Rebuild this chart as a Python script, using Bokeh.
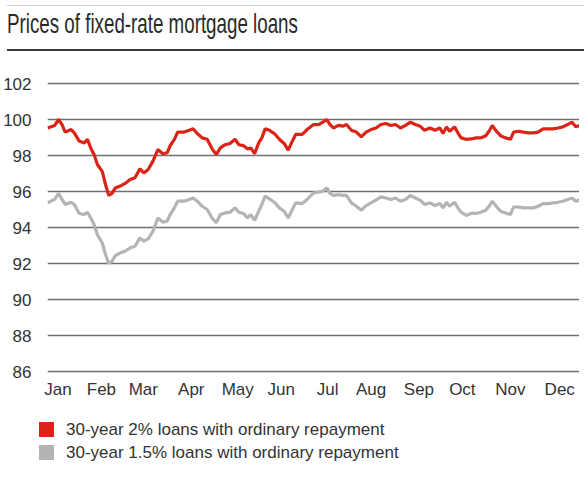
from bokeh.plotting import figure
from bokeh.models import Range1d, FixedTicker, Div
from bokeh.layouts import column
from bokeh.embed import file_html
from bokeh.resources import INLINE

title_text = "Prices of fixed-rate mortgage loans"
months = ["Jan", "Feb", "Mar", "Apr", "May", "Jun", "Jul", "Aug", "Sep", "Oct", "Nov", "Dec"]
month_tick_days = [7, 36, 64, 96, 127, 156, 187, 216, 248, 277, 309, 342]
y_ticks = [86, 88, 90, 92, 94, 96, 98, 100, 102]
series_names = ["30-year 2% loans with ordinary repayment",
                "30-year 1.5% loans with ordinary repayment"]

days = [0, 4.8, 7.4, 9.7, 11.8, 15.8, 17.9, 21.2, 24.5, 26.7, 28.9, 31.1, 33.3, 36.6, 38.7, 40.9,
        43.1, 45.3, 48.6, 51.8, 55.2, 58.4, 61.7, 64.3, 67.2, 70.5, 73.7, 77.0, 79.9, 81.9, 84.7, 86.9,
        91.3, 94.6, 97.2, 100.0, 103.3, 106.6, 109.9, 112.7, 115.4, 118.6, 121.9, 125.2, 127.8, 130.7,
        133.5, 135.7, 138.3, 141.0, 143.1, 145.3, 148.2, 151.5, 154.8, 158.0, 160.7, 162.9, 165.7,
        170.1, 173.3, 177.7, 181.0, 183.8, 186.5, 188.6, 190.9, 194.2, 197.4, 199.6, 202.9, 206.2,
        209.5, 212.7, 216.0, 219.3, 222.6, 225.9, 229.2, 232.4, 235.7, 239.0, 242.3, 245.6, 248.8, 251.7,
        255.4, 258.7, 262.0, 264.1, 266.4, 268.5, 271.8, 274.0, 276.2, 279.5, 282.8, 286.1, 289.4,
        292.6, 294.8, 297.0, 299.2, 302.5, 305.8, 309.1, 311.2, 314.5, 317.8, 321.1, 324.4, 327.6,
        330.9, 334.2, 337.5, 340.8, 344.1, 347.3, 350.2, 352.8, 355.0]

loan_2pct = [99.53, 99.67, 100.0, 99.72, 99.3, 99.44, 99.26, 98.8, 98.7, 98.9, 98.4, 98.05, 97.5, 97.1,
             96.4, 95.78, 95.9, 96.2, 96.3, 96.45, 96.67, 96.76, 97.26, 97.03, 97.22, 97.7, 98.33, 98.1,
             98.15, 98.55, 98.9, 99.3,
             99.3, 99.4, 99.48, 99.22, 98.98, 98.9, 98.37, 98.05, 98.42, 98.6, 98.67, 98.9, 98.6, 98.55,
             98.37, 98.42, 98.1, 98.7, 98.98, 99.48, 99.4, 99.22, 98.9, 98.67, 98.3, 98.7, 99.17,
             99.17, 99.44, 99.72, 99.72, 99.85, 100.0, 99.72, 99.53, 99.67, 99.63, 99.72, 99.4, 99.3,
             99.04, 99.3, 99.44, 99.53, 99.72, 99.78, 99.67, 99.72, 99.53, 99.67, 99.85, 99.72, 99.63, 99.4,
             99.53, 99.4, 99.53, 99.22, 99.59, 99.35, 99.59, 99.26, 98.98, 98.9, 98.92, 98.98, 98.98,
             99.1, 99.35, 99.67, 99.4, 99.1, 98.98, 98.9, 99.3, 99.35, 99.3, 99.26, 99.26, 99.3, 99.48,
             99.48, 99.48, 99.53, 99.59, 99.72, 99.85, 99.59, 99.67]

loan_15pct = [95.37, 95.56, 95.89, 95.56, 95.28, 95.4, 95.28, 94.78, 94.72, 94.85, 94.53, 94.17, 93.6,
              93.14, 92.5, 92.0, 92.13, 92.44, 92.59, 92.68, 92.87, 92.96, 93.42, 93.24, 93.37, 93.8,
              94.53, 94.3, 94.35, 94.72, 95.09, 95.46,
              95.46, 95.56, 95.64, 95.46, 95.18, 95.0, 94.53, 94.26, 94.72, 94.81, 94.85, 95.09, 94.85,
              94.78, 94.53, 94.72, 94.4, 94.9, 95.28, 95.74, 95.59, 95.4, 95.09, 94.9, 94.53, 94.9, 95.37,
              95.33, 95.56, 95.92, 95.96, 96.02, 96.2, 95.89, 95.78, 95.83, 95.78, 95.78, 95.37, 95.18,
              94.96, 95.22, 95.37, 95.52, 95.7, 95.64, 95.56, 95.64, 95.46, 95.56, 95.78, 95.64, 95.52, 95.28,
              95.37, 95.22, 95.33, 95.09, 95.4, 95.18, 95.4, 95.09, 94.85, 94.67, 94.78, 94.78, 94.85,
              94.96, 95.18, 95.46, 95.22, 94.9, 94.81, 94.72, 95.14, 95.14, 95.09, 95.09, 95.09, 95.18,
              95.33, 95.33, 95.37, 95.4, 95.46, 95.56, 95.64, 95.46, 95.52]

RED = "#dc2318"
GREY = "#b4b4b4"
FONT = "Liberation Sans"

header_html = (
    '<div style="position:relative;width:579px;height:47px;">'
    '<div style="position:absolute;left:2px;right:0;top:0;height:1px;background:#cfcfcf;"></div>'
    '<div style="position:absolute;left:2px;top:5px;white-space:nowrap;'
    "font-family:'Liberation Sans',sans-serif;font-size:28px;line-height:28px;color:#2a2a2a;"
    'transform:scaleX(0.67);transform-origin:left top;">' + title_text + '</div>'
    '<div style="position:absolute;left:2px;right:0;top:44px;height:2px;background:#3c3c3c;"></div>'
    '</div>'
)
header = Div(text=header_html, width=579, height=47)

p = figure(width=579, height=350, output_backend="svg", toolbar_location=None,
           x_range=Range1d(0, 355.2), y_range=Range1d(86 - 4 / 18, 102 + 4 / 18),
           min_border_left=38, min_border_right=0, min_border_top=22, min_border_bottom=32)
p.outline_line_color = None
p.background_fill_color = "white"
p.border_fill_color = "white"

p.xgrid.grid_line_color = None
p.ygrid.grid_line_color = "#707070"
p.ygrid.grid_line_width = 1.5
p.yaxis.ticker = FixedTicker(ticks=y_ticks)
p.xaxis.ticker = FixedTicker(ticks=month_tick_days)
p.xaxis.major_label_overrides = {d: m for d, m in zip(month_tick_days, months)}

for ax in (p.xaxis[0], p.yaxis[0]):
    ax.axis_line_color = None
    ax.major_tick_line_color = None
    ax.minor_tick_line_color = None
    ax.major_label_text_font = FONT
    ax.major_label_text_font_size = "17px"
    ax.major_label_text_color = "#333333"
p.yaxis.major_label_standoff = 10
p.xaxis.major_tick_out = 0
p.xaxis.major_tick_in = 0
p.xaxis.major_label_standoff = 4

p.line(days, loan_15pct, line_color=GREY, line_width=3.2)
p.line(days, loan_2pct, line_color=RED, line_width=3.2)

# legend block below the chart
def legend_row(color, label, top):
    return ('<div style="position:absolute;left:34px;top:%dpx;width:15px;height:15px;background:%s;"></div>'
            '<div style="position:absolute;left:61px;top:%dpx;white-space:nowrap;'
            "font-family:'Liberation Sans',sans-serif;font-size:17px;line-height:20px;color:#333333;\">%s</div>"
            % (top, color, top - 2, label))

legend_html = ('<div style="position:relative;width:579px;height:66px;">'
               + legend_row(RED, series_names[0], 10)
               + legend_row(GREY, series_names[1], 33)
               + '</div>')
legend_div = Div(text=legend_html, width=579, height=66)

layout = column(header, p, legend_div)
open("out.html", "w").write(file_html(layout, INLINE))
